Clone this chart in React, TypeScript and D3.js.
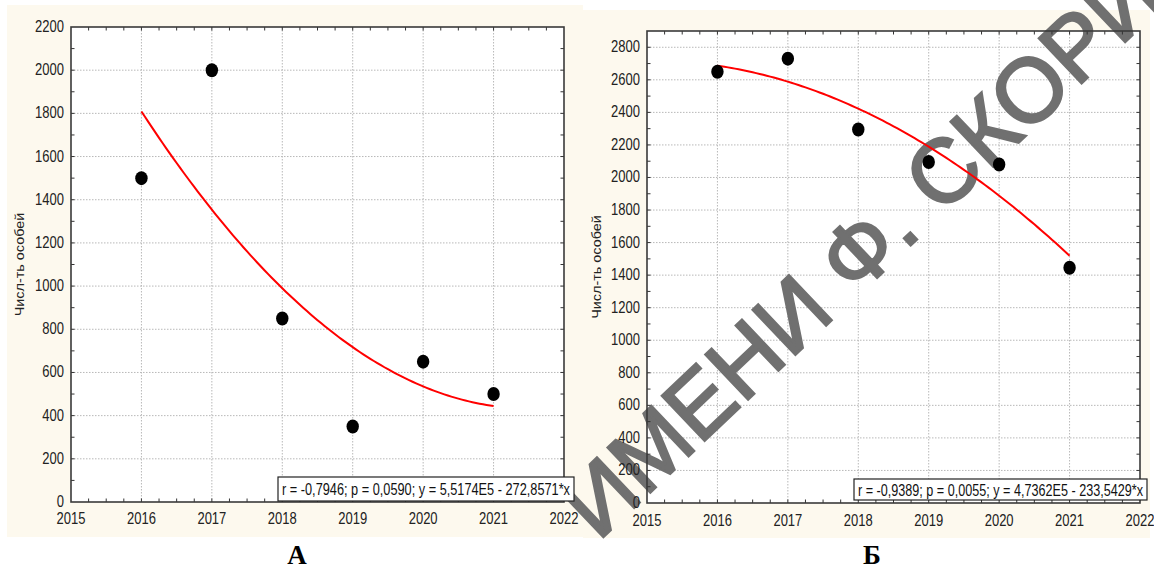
import React from 'react';
import * as d3 from 'd3';

const years = [2016, 2017, 2018, 2019, 2020, 2021];
const countsA = [1500, 2000, 850, 350, 650, 500];
const countsB = [2650, 2730, 2295, 2095, 2080, 1445];
const xTicks = [2015, 2016, 2017, 2018, 2019, 2020, 2021, 2022];
const yTicksA = [0, 200, 400, 600, 800, 1000, 1200, 1400, 1600, 1800, 2000, 2200];
const yTicksB = [0, 200, 400, 600, 800, 1000, 1200, 1400, 1600, 1800, 2000, 2200, 2400, 2600, 2800];
const statsA = 'r = -0,7946; p = 0,0590;  y = 5,5174E5 - 272,8571*x';
const statsB = 'r = -0,9389; p = 0,0055;  y = 4,7362E5 - 233,5429*x';
const yTitle = 'Числ-ть особей';
const panelLabels = ['А', 'Б'];
const watermark = 'ИМЕНИ Ф. СКОРИНЫ';

const FONT = '"Liberation Sans", Arial, sans-serif';
const BEIGE = '#fdf9ee';

// least-squares quadratic fit (centered)
function quadFit(xs: number[], ys: number[]) {
  const m = d3.mean(xs) as number;
  const t = xs.map((x) => x - m);
  const S = (p: number) => d3.sum(t, (v) => Math.pow(v, p));
  const T = (p: number) => d3.sum(t, (v, i) => Math.pow(v, p) * ys[i]);
  const A = [
    [S(0), S(1), S(2)],
    [S(1), S(2), S(3)],
    [S(2), S(3), S(4)],
  ];
  const B = [T(0), T(1), T(2)];
  const det = (M: number[][]) =>
    M[0][0] * (M[1][1] * M[2][2] - M[1][2] * M[2][1]) -
    M[0][1] * (M[1][0] * M[2][2] - M[1][2] * M[2][0]) +
    M[0][2] * (M[1][0] * M[2][1] - M[1][1] * M[2][0]);
  const D = det(A);
  const coef = [0, 1, 2].map((k) => {
    const Mk = A.map((row, i) => row.map((v, j) => (j === k ? B[i] : v)));
    return det(Mk) / D;
  });
  return (x: number) => {
    const v = x - m;
    return coef[0] + coef[1] * v + coef[2] * v * v;
  };
}

interface PanelProps {
  layer: 'back' | 'front';
  x0: number; x1: number; yTop: number; yBottom: number; yMax: number;
  yTicks: number[]; counts: number[]; stats: string;
  box: { x: number; y: number; w: number; h: number };
  titleX: number; labelX: number; label: string; bg: { x: number; y: number; w: number; h: number };
  xLabelDy: number;
}

function Panel(p: PanelProps) {
  const x = d3.scaleLinear().domain([2015, 2022]).range([p.x0, p.x1]);
  const y = d3.scaleLinear().domain([0, p.yMax]).range([p.yBottom, p.yTop]);
  if (p.layer === 'back') {
    return (
      <g>
        <rect x={p.bg.x} y={p.bg.y} width={p.bg.w} height={p.bg.h} fill={BEIGE} />
        <rect x={p.x0} y={p.yTop} width={p.x1 - p.x0} height={p.yBottom - p.yTop} fill="#fff" />
        {xTicks.slice(1, -1).map((t) => (
          <line key={'gx' + t} x1={x(t)} x2={x(t)} y1={p.yTop} y2={p.yBottom} stroke="#b8b8b8" strokeWidth={1} strokeDasharray="1.5,1.5" />
        ))}
        {p.yTicks.filter((t) => t > 0 && t < p.yMax).map((t) => (
          <line key={'gy' + t} x1={p.x0} x2={p.x1} y1={y(t)} y2={y(t)} stroke="#b8b8b8" strokeWidth={1} strokeDasharray="1.5,1.5" />
        ))}
      </g>
    );
  }
  const fit = quadFit(years, p.counts);
  const curvePts = d3.range(0, 101).map((i) => {
    const xv = years[0] + (i / 100) * (years[years.length - 1] - years[0]);
    return [xv, fit(xv)] as [number, number];
  });
  const line = d3.line<[number, number]>().x((d) => x(d[0])).y((d) => y(d[1]));
  const minorX = d3.range(2015.25, 2022, 0.25);
  const minorY = d3.range(100, p.yMax, 100);
  const tl = 3.5;
  return (
    <g>
      {minorX.map((t) => (
        <g key={'mx' + t}>
          <line x1={x(t)} x2={x(t)} y1={p.yBottom} y2={p.yBottom - tl} stroke="#333" strokeWidth={1} />
          <line x1={x(t)} x2={x(t)} y1={p.yTop} y2={p.yTop + tl} stroke="#333" strokeWidth={1} />
        </g>
      ))}
      {minorY.map((t) => (
        <g key={'my' + t}>
          <line x1={p.x0} x2={p.x0 + tl} y1={y(t)} y2={y(t)} stroke="#333" strokeWidth={1} />
          <line x1={p.x1} x2={p.x1 - tl} y1={y(t)} y2={y(t)} stroke="#333" strokeWidth={1} />
        </g>
      ))}
      <rect x={p.x0} y={p.yTop} width={p.x1 - p.x0} height={p.yBottom - p.yTop} fill="none" stroke="#3a3a3a" strokeWidth={1.6} />
      <path d={line(curvePts) || ''} fill="none" stroke="#ff0000" strokeWidth={2} />
      {years.map((yr, i) => (
        <ellipse key={'pt' + yr} cx={x(yr)} cy={y(p.counts[i])} rx={6.2} ry={7} fill="#000" />
      ))}
      {p.yTicks.map((t) => (
        <text key={'ty' + t} transform={`translate(${p.x0 - 7},${y(t) + 5}) scale(1,1.28)`} textAnchor="end"
          fontFamily={FONT} fontSize={13} fill="#222">{t}</text>
      ))}
      {xTicks.map((t) => (
        <text key={'tx' + t} transform={`translate(${x(t)},${p.yBottom + p.xLabelDy}) scale(1,1.28)`} textAnchor="middle"
          fontFamily={FONT} fontSize={13} fill="#222">{t}</text>
      ))}
      <text transform={`translate(${p.titleX},${(p.yTop + p.yBottom) / 2}) rotate(-90) scale(1.2,1)`} textAnchor="middle"
        fontFamily={FONT} fontSize={12} fill="#222" dy="0.35em">{yTitle}</text>
      <rect x={p.box.x} y={p.box.y} width={p.box.w} height={p.box.h} fill="#fff" stroke="#222" strokeWidth={1.2} />
      <text transform={`translate(${p.box.x + 4},${p.box.y + p.box.h / 2 + 6}) scale(1,1.25)`} fontFamily={FONT} fontSize={13}
        fill="#111" textLength={p.box.w - 8} lengthAdjust="spacingAndGlyphs">{p.stats}</text>
      <text x={p.labelX} y={564} textAnchor="middle" fontFamily='"Liberation Serif", "Times New Roman", serif'
        fontWeight="bold" fontSize={27} fill="#000">{p.label}</text>
    </g>
  );
}

const panelA = {
  x0: 71, x1: 564, yTop: 27, yBottom: 502, yMax: 2200, yTicks: yTicksA, counts: countsA, stats: statsA,
  box: { x: 278, y: 477, w: 296, h: 24 }, titleX: 20, labelX: 297, label: panelLabels[0],
  bg: { x: 7, y: 5, w: 576, h: 532 }, xLabelDy: 22,
};
const panelB = {
  x0: 647, x1: 1140, yTop: 31, yBottom: 503, yMax: 2900, yTicks: yTicksB, counts: countsB, stats: statsB,
  box: { x: 854, y: 479, w: 293, h: 21 }, titleX: 597, labelX: 872, label: panelLabels[1],
  bg: { x: 583, y: 10, w: 567, h: 528 }, xLabelDy: 23,
};

export default function App() {
  return (
    <svg width={1154} height={570} style={{ position: 'absolute', left: 0, top: 0, background: '#fff' }}>
      <Panel layer="back" {...panelA} />
      <Panel layer="back" {...panelB} />
      <text transform="translate(598,542) rotate(-43.5)" fontFamily={FONT} fontSize={90} fill="#707070"
        stroke="#707070" strokeWidth={2.5}>{watermark}</text>
      <Panel layer="front" {...panelA} />
      <Panel layer="front" {...panelB} />
    </svg>
  );
}
